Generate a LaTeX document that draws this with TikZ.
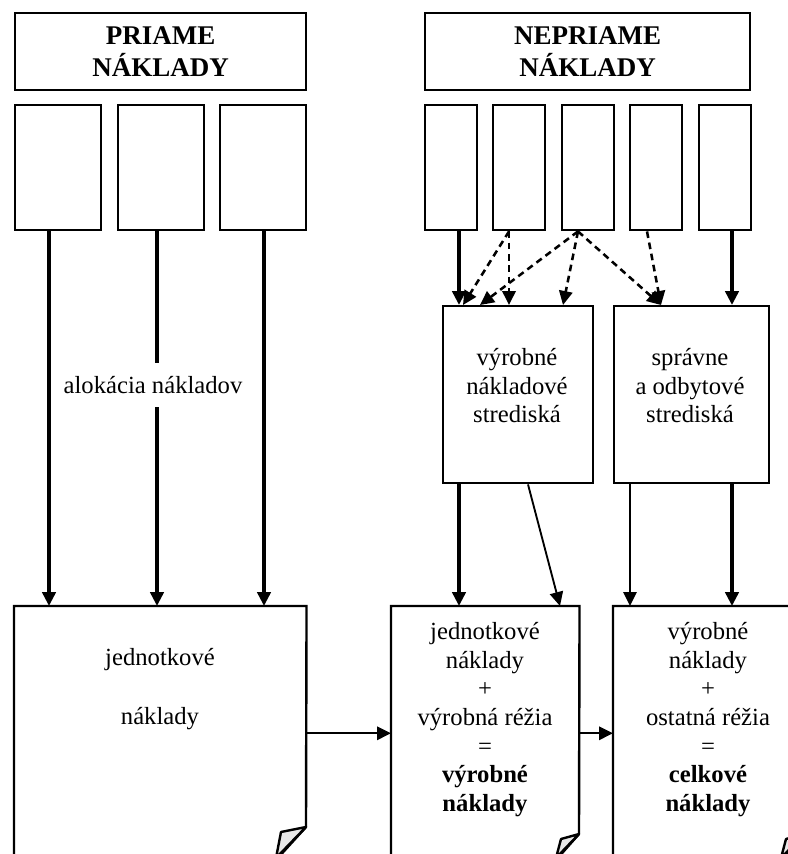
\documentclass[tikz,border=0pt]{standalone}
\usepackage{fontspec}
\setmainfont{Liberation Serif}
\usetikzlibrary{arrows.meta}
\begin{document}
\begin{tikzpicture}[x=0.75pt,y=-0.75pt,
  boxline/.style={line width=1.8pt,line join=miter},
  rbox/.style={draw,line width=1.8pt,anchor=north west,inner sep=0pt},
  tipstyle/.style={-{Triangle[length=10.5pt,width=10pt]}},
  thickarr/.style={line width=2.8pt,tipstyle},
  thinarr/.style={line width=1.4pt,tipstyle},
  medarr/.style={line width=1.7pt,tipstyle},
  dasharr/.style={line width=1.9pt,dash pattern=on 5pt off 3.5pt,tipstyle},
  bodytxt/.style={font=\fontsize{18.5pt}{21.5pt}\selectfont,align=center,inner sep=0pt},
  headtxt/.style={font=\fontsize{20.25pt}{24pt}\selectfont\bfseries,align=center},
  flap/.style={line width=1.8pt,fill=gray!18,line join=round}
]
\useasboundingbox (0,0) rectangle (788,854);
\clip (0,0) rectangle (788,854);

% header boxes
\node[rbox,headtxt,minimum width=218.25pt,minimum height=57.75pt] (ph) at (14,12) {PRIAME\\NÁKLADY};
\node[rbox,headtxt,minimum width=243.75pt,minimum height=57.75pt] (nh) at (424,12) {NEPRIAME\\NÁKLADY};

% small boxes, direct costs
\node[rbox,minimum width=64.5pt,minimum height=93.75pt] (l1) at (14,104) {};
\node[rbox,minimum width=64.5pt,minimum height=93.75pt] (l2) at (117,104) {};
\node[rbox,minimum width=64.5pt,minimum height=93.75pt] (l3) at (219,104) {};

% small boxes, indirect costs
\node[rbox,minimum width=39pt,minimum height=93.75pt] (r1) at (424,104) {};
\node[rbox,minimum width=39pt,minimum height=93.75pt] (r2) at (492,104) {};
\node[rbox,minimum width=39pt,minimum height=93.75pt] (r3) at (561,104) {};
\node[rbox,minimum width=39pt,minimum height=93.75pt] (r4) at (629,104) {};
\node[rbox,minimum width=39pt,minimum height=93.75pt] (r5) at (698,104) {};

% cost centres
\node[rbox,minimum width=112.5pt,minimum height=132.75pt] (ma) at (442,305) {};
\node[rbox,minimum width=116.25pt,minimum height=132.75pt] (mb) at (613,305) {};
\node[bodytxt,anchor=north] (mat) at (517,348) {výrobné\\nákladové\\strediská};
\node[bodytxt,anchor=north] (mbt) at (690,348) {správne\\a odbytové\\strediská};

% bottom boxes (outline drawn separately because of folded corner)
\node[anchor=north west,inner sep=0pt,minimum width=219pt,minimum height=190.5pt] (bl) at (14,606) {};
\node[anchor=north west,inner sep=0pt,minimum width=141pt,minimum height=190.5pt] (bm) at (391,606) {};
\node[anchor=north west,inner sep=0pt,minimum width=143.25pt,minimum height=190.5pt] (br) at (613,606) {};

\draw[boxline] (bl.south west) -- (bl.north west) -- (bl.north east) -- (306,827) -- (276,860);
\draw[flap] (306,827) -- (281,832) -- (276,858) -- cycle;
\draw[boxline] (bm.south west) -- (bm.north west) -- (bm.north east) -- (579,834) -- (556,860);
\draw[flap] (579,834) -- (561,839) -- (556,858) -- cycle;
\draw[boxline] (br.south west) -- (br.north west) -- (br.north east) -- (804,834) -- (781,860);
\draw[flap] (804,834) -- (786,839) -- (781,858) -- cycle;

\node[bodytxt,anchor=north] (blt) at (160,648) {jednotkové\\[23pt]náklady};
\node[bodytxt,anchor=north] (bmt) at (485,622) {jednotkové\\náklady\\+\\výrobná réžia\\=\\\textbf{výrobné}\\\textbf{náklady}};
\node[bodytxt,anchor=north] (brt) at (708,622) {výrobné\\náklady\\+\\ostatná réžia\\=\\\textbf{celkové}\\\textbf{náklady}};

% x positions of connectors
\coordinate (x49) at (49,0);
\coordinate (x157) at (157,0);
\coordinate (x264) at (264,0);
\coordinate (x459) at (459,0);
\coordinate (x463) at (463,0);
\coordinate (x480) at (480,0);
\coordinate (x509) at (509,0);
\coordinate (x563) at (563,0);
\coordinate (x578) at (578,0);
\coordinate (x647) at (647,0);
\coordinate (x661) at (661,0);
\coordinate (x732) at (732,0);
\coordinate (x528) at (528,0);
\coordinate (x560) at (560,0);
\coordinate (x630) at (630,0);

% allocation arrows
\draw[thickarr] (l1.south -| x49) -- (bl.north -| x49);
\draw[thickarr] (l2.south -| x157) -- (bl.north -| x157);
\draw[thickarr] (l3.south -| x264) -- (bl.north -| x264);
\node[bodytxt,fill=white,inner ysep=10pt,inner xsep=3pt] (alloc) at (153,385) {alokácia nákladov};

% indirect costs to cost centres
\draw[thickarr] (r1.south -| x459) -- (ma.north -| x459);
\draw[dasharr] (r2.south -| x509) -- (ma.north -| x463);
\draw[dasharr] (r2.south -| x509) -- (ma.north -| x509);
\draw[dasharr] (r3.south -| x578) -- (ma.north -| x480);
\draw[dasharr] (r3.south -| x578) -- (ma.north -| x563);
\draw[dasharr] (r3.south -| x578) -- (mb.north -| x661);
\draw[dasharr] (r4.south -| x647) -- (mb.north -| x661);
\draw[thickarr] (r5.south -| x732) -- (mb.north -| x732);

% cost centres to bottom boxes
\draw[thickarr] (ma.south -| x459) -- (bm.north -| x459);
\draw[thinarr] (ma.south -| x528) -- (bm.north -| x560);
\draw[thinarr] (mb.south -| x630) -- (br.north -| x630);
\draw[thickarr] (mb.south -| x732) -- (br.north -| x732);

% horizontal flow
\draw[medarr] (bl.east) -- (bm.west);
\draw[medarr] (bm.east) -- (br.west);
\end{tikzpicture}
\end{document}
